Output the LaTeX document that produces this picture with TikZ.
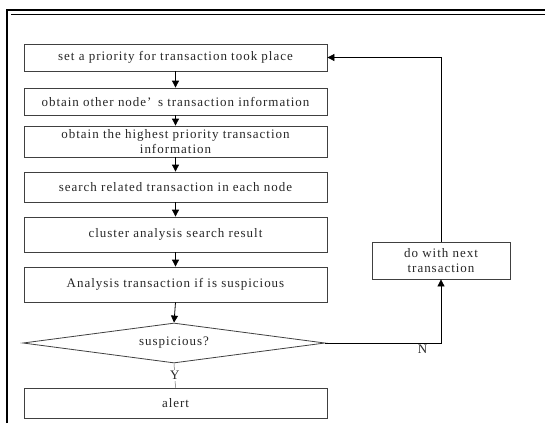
\documentclass[tikz,border=0pt]{standalone}
\usepackage{fontspec}
\setmainfont[LetterSpace=7.5]{Liberation Serif}
\usetikzlibrary{shapes.geometric,arrows.meta}
\begin{document}
\begin{tikzpicture}[x=1bp,y=-1bp,
  txt/.style={text=black!85,font=\fontsize{13bp}{14.5bp}\selectfont},
  box/.style={txt,draw=black!75,line width=0.8bp,rectangle,minimum width=303bp,inner sep=0pt,align=center},
  arr/.style={line width=0.8bp,-{Triangle[length=7bp,width=7bp]}},
  lbl/.style={txt,inner sep=1bp}]
\useasboundingbox (0,0) rectangle (545,423);
% frame
\draw[line width=2.2bp] (7,423) -- (7,10) -- (545,10);
\draw[line width=1.4bp] (11,14.3) -- (545,14.3);
% nodes
\node[box,minimum height=27bp] (b1) at (175.5,57.5) {set a priority for transaction took place};
\node[box,minimum height=27bp] (b2) at (175.5,101.5) {obtain other node’\hspace{0.5em}s transaction information};
\node[box,minimum height=31bp] (b3) at (175.5,141.5) {obtain the highest priority transaction\\information};
\node[box,minimum height=30bp] (b4) at (175.5,187) {search related transaction in each node};
\node[box,minimum height=35bp] (b5) at (175.5,234.5) {cluster analysis search result};
\node[box,minimum height=35bp] (b6) at (175.5,284.5) {Analysis transaction if is suspicious};
\node[txt,draw=black!75,line width=0.8bp,diamond,aspect=7.55,minimum width=302bp,minimum height=40bp,inner sep=0pt] (d) at (174,343) {suspicious?};
\node[box,minimum height=30bp] (al) at (175.5,403) {alert};
\node[box,minimum width=138bp,minimum height=37bp] (nx) at (441,260.5) {do with next\\transaction};
% connectors
\draw[arr] (b1) -- (b2);
\draw[arr] (b2) -- (b3);
\draw[arr] (b3) -- (b4);
\draw[arr] (b4) -- (b5);
\draw[arr] (b5) -- (b6);
\draw[arr] (b6.south) -- (d.north);
\draw[line width=0.5bp,black!60] (d.south) -- node[lbl,fill=white,pos=0.5] {Y} (al.north);
\draw[arr] (d.east) -| node[lbl,pos=0.42,below=1bp] {N} (nx.south);
\draw[arr] (nx.north) |- (b1.east);
\end{tikzpicture}
\end{document}
